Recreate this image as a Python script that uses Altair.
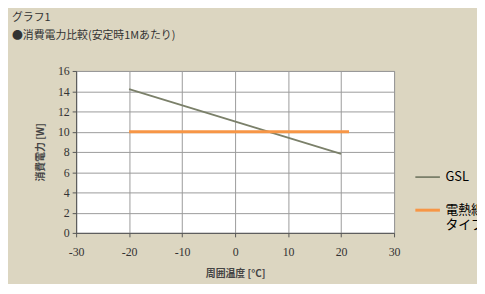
import altair as alt
import pandas as pd

series = ["GSL", "電熱線タイプ"]
gsl_temp = [-20, 20]
gsl_power = [14.2, 7.8]
heat_temp = [-20, 21.5]
heat_power = [10, 10]
x_ticks = [-30, -20, -10, 0, 10, 20, 30]
y_ticks = [0, 2, 4, 6, 8, 10, 12, 14, 16]
title_lines = ["グラフ1", "●消費電力比較(安定時1Mあたり)"]

df = pd.DataFrame({
    "temp": gsl_temp + heat_temp,
    "power": gsl_power + heat_power,
    "series": [series[0]] * len(gsl_temp) + [series[1]] * len(heat_temp),
})

BG = "#dcd6c1"
JP = "Noto Sans CJK JP"
NUM = "Liberation Serif"

chart = alt.Chart(df).mark_line().encode(
    x=alt.X("temp:Q",
            scale=alt.Scale(domain=[-30, 30], nice=False, zero=False),
            axis=alt.Axis(values=x_ticks, title="周囲温度 [°C]", labelFont=NUM,
                          labelFontSize=12, labelPadding=10, titlePadding=11,
                          labelFlush=False, labelExpr="datum.value + ''")),
    y=alt.Y("power:Q",
            scale=alt.Scale(domain=[0, 16], nice=False),
            axis=alt.Axis(values=y_ticks, title="消費電力 [W]", labelFont=NUM,
                          labelFontSize=12, labelPadding=3, titlePadding=12,
                          labelFlush=False, labelExpr="datum.value + ''")),
    color=alt.Color("series:N",
                    scale=alt.Scale(domain=series, range=["#7b806a", "#f79646"]),
                    legend=alt.Legend(title=None, orient="none", legendX=342, legendY=94,
                                      symbolType="stroke", symbolSize=620,
                                      symbolStrokeWidth=2.5, labelFont=JP,
                                      labelFontSize=13, labelColor="#000",
                                      rowPadding=12, padding=0,
                                      labelExpr="datum.label == '電熱線タイプ' ? ['電熱線', 'タイプ'] : datum.label")),
    strokeWidth=alt.StrokeWidth("series:N",
                                scale=alt.Scale(domain=series, range=[1.8, 3]),
                                legend=None),
).properties(
    width=322,
    height=164,
    autosize=alt.AutoSizeParams(type="none"),
    padding={"left": 69, "top": 62, "right": 84, "bottom": 50},
    background=BG,
    title=alt.TitleParams(text=title_lines, anchor="start", frame="group", dx=-65,
                          offset=24, font=JP, fontSize=11, fontWeight="normal",
                          color="#333", lineHeight=19),
).configure_view(
    fill="white", stroke="#888", strokeWidth=1
).configure_axis(
    grid=True, gridColor="#9a9a9a", gridWidth=1,
    domainColor="#555", tickColor="#555", tickSize=4,
    labelColor="#333", titleFont=JP, titleFontSize=10,
    titleFontWeight="bold", titleColor="#444",
)

chart.save("out.html", embed_options={"renderer": "svg", "actions": False})
